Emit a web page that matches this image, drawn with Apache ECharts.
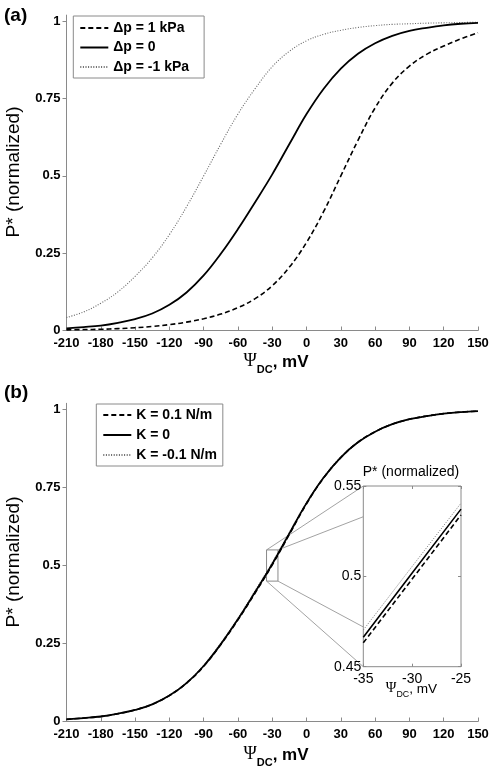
<!DOCTYPE html>
<html><head><meta charset="utf-8">
<script src="https://cdn.jsdelivr.net/npm/echarts@6/dist/echarts.min.js"></script>
<style>html,body{margin:0;padding:0;background:#fff}#c{width:496px;height:780px}</style>
</head><body><div id="c"></div>
<script>
// ---- data ----
const xValues = [-210,-195,-180,-165,-150,-135,-120,-105,-90,-75,-60,-45,-30,-15,0,15,30,45,60,75,90,105,120,135,150];
// panel (a)
const dpPlus1  = [0.002,0.003,0.004,0.006,0.009,0.013,0.019,0.027,0.038,0.053,0.074,0.103,0.145,0.205,0.285,0.385,0.50,0.615,0.72,0.80,0.855,0.893,0.92,0.943,0.963];
const dpZero   = [0.007,0.011,0.016,0.025,0.037,0.055,0.083,0.123,0.178,0.248,0.328,0.415,0.505,0.603,0.70,0.782,0.847,0.895,0.929,0.953,0.969,0.979,0.987,0.992,0.995];
const dpMinus1 = [0.042,0.06,0.088,0.125,0.175,0.235,0.31,0.40,0.50,0.603,0.70,0.782,0.853,0.903,0.937,0.958,0.971,0.98,0.986,0.99,0.992,0.994,0.995,0.996,0.997];
// panel (b)
const kPlus  = [0.007,0.011,0.016,0.025,0.037,0.055,0.083,0.123,0.177,0.247,0.326,0.412,0.502,0.600,0.698,0.781,0.846,0.895,0.929,0.953,0.969,0.979,0.987,0.992,0.995];
const kZero  = [0.007,0.011,0.016,0.025,0.037,0.055,0.083,0.123,0.178,0.248,0.328,0.415,0.505,0.603,0.70,0.782,0.847,0.895,0.929,0.953,0.969,0.979,0.987,0.992,0.995];
const kMinus = [0.007,0.011,0.016,0.025,0.037,0.056,0.084,0.125,0.180,0.251,0.331,0.419,0.509,0.606,0.702,0.783,0.848,0.896,0.929,0.953,0.969,0.979,0.987,0.992,0.995];
// inset
const insetX = [-35,-30,-25];
const insetPlus  = [0.4632,0.4985,0.534];
const insetZero  = [0.4663,0.5018,0.5372];
const insetMinus = [0.4703,0.5055,0.5405];
const mainYTicks = [0,0.25,0.5,0.75,1];
const namesA = ['Δp = 1 kPa','Δp = 0','Δp = -1 kPa'];
const namesB = ['K = 0.1 N/m','K = 0','K = -0.1 N/m'];
const zoomBox = [[-35,0.55],[-25,0.45]];
// connector anchors: [main point, inset point]
const connectors = [
  [[-35,0.55],[-35,0.55]],
  [[-25,0.55],[-35,0.533]],
  [[-25,0.45],[-35,0.472]],
  [[-35,0.45],[-35,0.45]]
];

// ---- style ----
const F = 'Liberation Sans, Arial, Helvetica, sans-serif';
const gray = '#8a8a8a';
const pairs = (xs, ys) => xs.map((x, i) => [x, ys[i]]);
const dashStyle = {color:'#000', width:1.6, type:[5,3]};
const solidStyle = {color:'#000', width:1.8, type:'solid'};
const dotStyle = {color:'#666', width:1.1, type:[1,1.6]};

function mainX(gi){
  return {type:'value', gridIndex:gi, min:-210, max:150, interval:30,
    axisLine:{show:true, onZero:false, lineStyle:{color:gray, width:1}},
    axisTick:{show:true, inside:true, length:4, lineStyle:{color:gray}},
    axisLabel:{margin:6, fontFamily:F, fontWeight:'bold', fontSize:13, color:'#000'},
    splitLine:{show:false}};
}
function mainY(gi){
  return {type:'value', gridIndex:gi, min:0, max:1.02,
    axisLine:{show:true, onZero:false, lineStyle:{color:gray, width:1}},
    axisTick:{show:true, inside:false, length:4, lineStyle:{color:gray}, customValues:mainYTicks},
    axisLabel:{margin:6, fontFamily:F, fontWeight:'bold', fontSize:13, color:'#000', customValues:mainYTicks,
      formatter: v => String(v)},
    splitLine:{show:false}};
}
function line(name, xi, yi, data, ls, z){
  return {name, type:'line', xAxisIndex:xi, yAxisIndex:yi, data, showSymbol:false, symbol:'none',
    smooth:0.4, lineStyle:ls, itemStyle:{color:ls.color}, z:z||2, silent:true, animation:false};
}
const legendCommon = {orient:'vertical', itemWidth:28, itemHeight:14, selectedMode:false,
  borderColor:gray, borderWidth:1, backgroundColor:'#fff',
  itemStyle:{opacity:0, borderWidth:0},
  textStyle:{fontFamily:F, fontWeight:'bold', fontSize:14, color:'#000'}};

const chart = echarts.init(document.getElementById('c'), null, {renderer:'canvas'});
const option = {
  animation:false,
  backgroundColor:'#fff',
  grid:[
    {left:66.5, top:15.1, width:411.5, height:315.4},
    {left:66.5, top:403.3, width:411.5, height:318.2},
    {left:363.3, top:486, width:97.7, height:180.7, show:true, borderColor:gray, borderWidth:1, backgroundColor:'#fff', z:5}
  ],
  xAxis:[
    mainX(0), mainX(1),
    {type:'value', gridIndex:2, min:-35, max:-25, interval:5, z:6,
      axisLine:{show:false, onZero:false}, axisTick:{show:true, inside:true, length:3, lineStyle:{color:gray}},
      axisLabel:{margin:5, fontFamily:F, fontSize:14, color:'#000'}, splitLine:{show:false}},
    {type:'value', gridIndex:2, position:'top', min:-35, max:-25, interval:5, z:6,
      axisLine:{show:false, onZero:false}, axisTick:{show:true, inside:true, length:3, lineStyle:{color:gray}},
      axisLabel:{show:false}, splitLine:{show:false}}
  ],
  yAxis:[
    mainY(0), mainY(1),
    {type:'value', gridIndex:2, min:0.45, max:0.55, interval:0.05, z:6,
      axisLine:{show:false, onZero:false}, axisTick:{show:true, inside:true, length:3, lineStyle:{color:gray}},
      axisLabel:{margin:2, fontFamily:F, fontSize:14, color:'#000', formatter: v => String(Math.round(v*100)/100)}, splitLine:{show:false}},
    {type:'value', gridIndex:2, position:'right', min:0.45, max:0.55, interval:0.05, z:6,
      axisLine:{show:false, onZero:false}, axisTick:{show:true, inside:true, length:3, lineStyle:{color:gray}},
      axisLabel:{show:false}, splitLine:{show:false}}
  ],
  legend:[
    Object.assign({data:[namesA[0],namesA[1],namesA[2]], left:73.3, top:16, padding:[5,15,4,6], itemGap:5.5}, legendCommon),
    Object.assign({data:[namesB[0],namesB[1],namesB[2]], left:96.3, top:404, padding:[4,6,4,6], itemGap:6}, legendCommon)
  ],
  series:[
    line(namesA[2], 0, 0, pairs(xValues, dpMinus1), dotStyle),
    line(namesA[0], 0, 0, pairs(xValues, dpPlus1), dashStyle),
    line(namesA[1], 0, 0, pairs(xValues, dpZero), solidStyle),
    line(namesB[2], 1, 1, pairs(xValues, kMinus), dotStyle),
    line(namesB[0], 1, 1, pairs(xValues, kPlus), dashStyle),
    Object.assign(line(namesB[1], 1, 1, pairs(xValues, kZero), solidStyle), {
      markArea:{silent:true, itemStyle:{color:'rgba(0,0,0,0)', borderColor:gray, borderWidth:1},
        data:[[{coord:zoomBox[0]},{coord:zoomBox[1]}]]}
    }),
    Object.assign(line('inset dotted', 2, 2, pairs(insetX, insetMinus), {color:'#777', width:1, type:[1,1.5]}, 7), {smooth:false}),
    Object.assign(line('inset dashed', 2, 2, pairs(insetX, insetPlus), {color:'#000', width:1.6, type:[5,3]}, 7), {smooth:false}),
    Object.assign(line('inset solid', 2, 2, pairs(insetX, insetZero), {color:'#000', width:1.6, type:'solid'}, 7), {smooth:false})
  ]
};
chart.setOption(option);

function xTitle(cx, top, big){
  const s = big ? 1 : 0.8;
  return {type:'text', x:cx, y:top, z:10, style:{
    text:'{p|Ψ}{s|DC}{m|, mV}', align:'center', verticalAlign:'top',
    rich:{
      p:{fontFamily:'Liberation Serif, DejaVu Serif, serif', fontSize:18*s, lineHeight:18*s, verticalAlign:'bottom', padding:[0,0,5*s,0], fill:'#000'},
      s:{fontFamily:F, fontWeight:big?'bold':'normal', fontSize:11*s, lineHeight:11*s, verticalAlign:'bottom', fill:'#000'},
      m:{fontFamily:F, fontWeight:big?'bold':'normal', fontSize:17*s, lineHeight:17*s, verticalAlign:'bottom', padding:[0,0,4*s,0], fill:'#000'}
    }}};
}
function yTitle(cx, cy, size, rotate){
  return {type:'text', x:cx, y:cy, rotation: rotate ? Math.PI/2 : 0, z:10, style:{
    text:'P* (normalized)', align:'center', verticalAlign:'middle', fontFamily:F, fontSize:size, fill:'#000'}};
}
const graphics = [
  {type:'text', x:4, y:6, style:{text:'(a)', fontFamily:F, fontWeight:'bold', fontSize:19, fill:'#000'}},
  {type:'text', x:4, y:383, style:{text:'(b)', fontFamily:F, fontWeight:'bold', fontSize:19, fill:'#000'}},
  xTitle(276, 357, true),
  xTitle(276, 750, true),
  xTitle(411.5, 685, false),
  yTitle(14, 172, 19, true),
  yTitle(14, 562, 19, true),
  yTitle(411, 472, 14, false)
];
connectors.forEach(c => {
  const p1 = chart.convertToPixel({gridIndex:1}, c[0]);
  const p2 = chart.convertToPixel({gridIndex:2}, c[1]);
  graphics.push({type:'line', z:1, silent:true, shape:{x1:p1[0], y1:p1[1], x2:p2[0], y2:p2[1]},
    style:{stroke:gray, lineWidth:0.8}});
});
chart.setOption({graphic:graphics});
</script>
</body></html>
